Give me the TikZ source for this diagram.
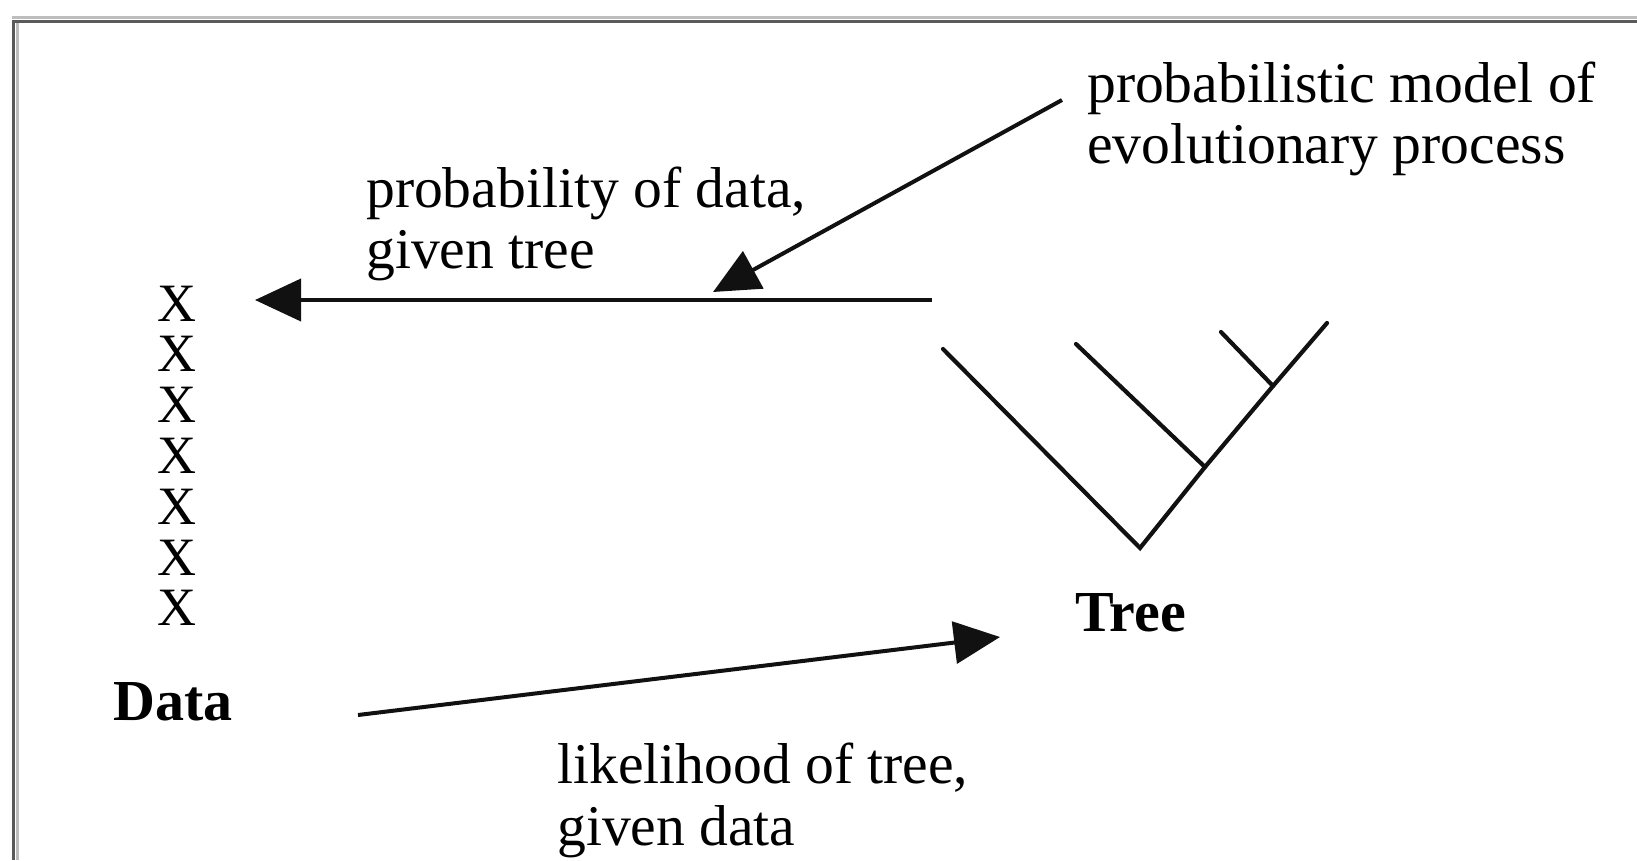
\documentclass[tikz,border=0pt]{standalone}
\usepackage{fontspec}
\setmainfont{Liberation Serif}
\usetikzlibrary{arrows.meta}
\definecolor{framedark}{HTML}{5A5A5A}
\definecolor{framelight}{HTML}{BDBDBD}
\definecolor{ink}{HTML}{111111}
\tikzset{
  lbl/.style={anchor=base west, inner sep=0pt, font=\fontsize{57.6}{62}\selectfont},
  bold/.style={anchor=base west, inner sep=0pt, font=\fontsize{58}{62}\selectfont\bfseries},
  xmark/.style={anchor=base, inner sep=0pt, font=\fontsize{54}{54}\selectfont},
  conn/.style={draw=ink, line width=4pt},
  arr/.style={conn, -{Triangle[length=46pt, width=42pt]}},
  branch/.style={draw=ink, line width=4.2pt, line cap=round, line join=miter}
}
\begin{document}
\begin{tikzpicture}[x=1pt, y=-1pt]
\useasboundingbox (0,0) rectangle (1637,860);
% frame
\draw[framelight, line width=3pt] (12,17.5) -- (1637,17.5);
\draw[framelight, line width=3pt] (17,22) -- (17,860);
\draw[framedark, line width=3pt] (12,21.5) -- (1637,21.5);
\draw[framedark, line width=3pt] (13.5,20) -- (13.5,860);

% labels
\node[lbl] (m1) at (1087,102) {probabilistic model of};
\node[lbl] (m2) at (1087,163) {evolutionary process};
\node[lbl] (p1) at (366,207) {probability of data,};
\node[lbl] (p2) at (366,268) {given tree};
\node[lbl] (l1) at (557,783) {likelihood of tree,};
\node[lbl] (l2) at (557,845) {given data};
\node[bold] (data) at (113,720) {Data};
\node[bold] (tree) at (1075,631) {Tree};

% data column
\foreach \i in {0,...,6} {
  \node[xmark] (x\i) at (177,{321+50.8*\i}) {X};
}

% arrows
\coordinate (hstart) at (932,300);
\coordinate (htip) at (255,300);
\coordinate (dstart) at (1062,100);
\coordinate (dtip) at (713,292);
\coordinate (bstart) at (358,715);
\coordinate (btip) at (1000,637);
\draw[arr] (hstart) -- (htip);
\draw[arr] (dstart) -- (dtip);
\draw[arr] (bstart) -- (btip);

% tree
\coordinate (root) at (1140,548);
\coordinate (n1) at (1205,467);
\coordinate (n2) at (1273,386);
\coordinate (leafA) at (943,349);
\coordinate (leafB) at (1076,344);
\coordinate (leafC) at (1221,332);
\coordinate (leafD) at (1327,323);
\draw[branch] (leafA) -- (root) -- (n1) -- (n2) -- (leafD);
\draw[branch] (leafB) -- (n1);
\draw[branch] (leafC) -- (n2);
\end{tikzpicture}
\end{document}
